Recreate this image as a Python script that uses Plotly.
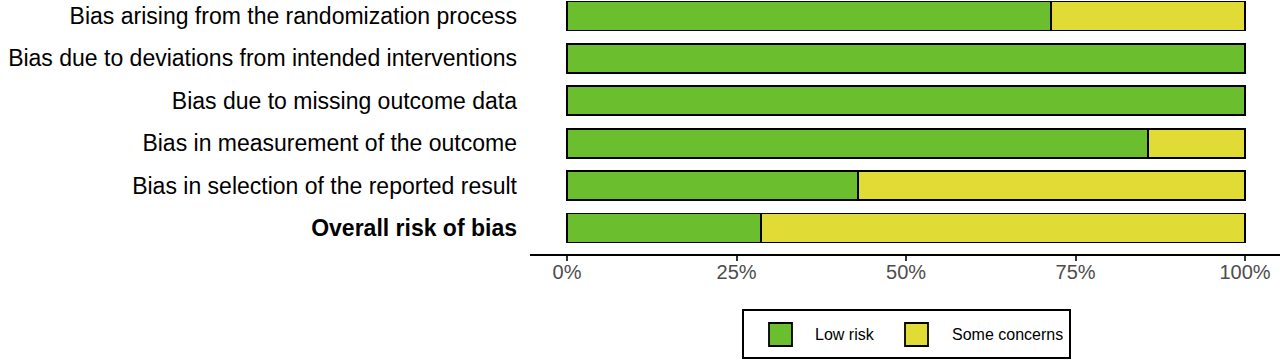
import plotly.graph_objects as go

domains = [
    "Bias arising from the randomization process",
    "Bias due to deviations from intended interventions",
    "Bias due to missing outcome data",
    "Bias in measurement of the outcome",
    "Bias in selection of the reported result",
    "Overall risk of bias",
]
tick_text = [
    "Bias arising from the randomization process",
    "Bias due to deviations from intended interventions",
    "Bias due to missing outcome data",
    "Bias in measurement of the outcome",
    "Bias in selection of the reported result",
    "<b>Overall risk of bias</b>",
]
low_risk = [71.43, 100.0, 100.0, 85.71, 42.86, 28.57]
some_concerns = [28.57, 0.0, 0.0, 14.29, 57.14, 71.43]
x_ticks = [0, 25, 50, 75, 100]
x_tick_labels = ["0%", "25%", "50%", "75%", "100%"]
legend_names = ["Low risk", "Some concerns"]

GREEN = "#6BBF2F"
YELLOW = "#E1DC35"
FONT = "Liberation Sans, Arial, Helvetica, sans-serif"

# body margin is removed by post_script, so figure pixels == screen pixels
W, H = 1280, 361
L, R, T, B = 530, 0, 0, H - 254
PW, PH = W - L - R, H - T - B


def px(x):  # screen x -> paper
    return (x - L) / PW


def py(y):  # screen y -> paper
    return (H - B - y) / PH


fig = go.Figure()
for name, vals, col in [(legend_names[0], low_risk, GREEN), (legend_names[1], some_concerns, YELLOW)]:
    fig.add_trace(go.Bar(
        y=domains, x=vals, name=name, orientation="h",
        marker=dict(color=col, line=dict(color="black", width=1.8)),
        showlegend=False, hoverinfo="skip",
    ))

# legend drawn manually (box, swatches, labels)
shapes = [dict(type="rect", xref="paper", yref="paper",
               x0=px(743), x1=px(1070), y0=py(358), y1=py(310),
               line=dict(color="black", width=2), fillcolor="white")]
annotations = []
for (sx, tx), name, col in zip([(769, 813), (905, 950)], legend_names, [GREEN, YELLOW]):
    shapes.append(dict(type="rect", xref="paper", yref="paper",
                       x0=px(sx), x1=px(sx + 23), y0=py(346), y1=py(323),
                       line=dict(color="black", width=1.8), fillcolor=col))
    annotations.append(dict(xref="paper", yref="paper", x=px(tx), y=py(334.5),
                            text=name, showarrow=False, xanchor="left", yanchor="middle",
                            font=dict(family=FONT, size=16, color="black")))

fig.update_layout(
    width=W, height=H,
    margin=dict(l=L, r=R, t=T, b=B, pad=0, autoexpand=False),
    barmode="stack", bargap=0.316,
    plot_bgcolor="white", paper_bgcolor="white",
    font=dict(family=FONT, color="black"),
    shapes=shapes, annotations=annotations,
    xaxis=dict(range=[-5.46, 105.16], tickvals=x_ticks, ticktext=x_tick_labels,
               automargin=False,
               showgrid=False, zeroline=False, showline=True, linecolor="black", linewidth=2,
               ticks="outside", ticklen=5, tickwidth=1.5, tickcolor="#333333",
               ticklabelstandoff=-6,
               tickfont=dict(family=FONT, size=20, color="#4D4D4D")),
    yaxis=dict(type="category", categoryorder="array", categoryarray=domains,
               automargin=False,
               range=[5.613, -0.377], tickvals=domains, ticktext=tick_text,
               showgrid=False, zeroline=False, showline=False, ticks="",
               ticklabelstandoff=12,
               tickfont=dict(family=FONT, size=23, color="black")),
)

fig.write_html("out.html", config={"displayModeBar": False},
               post_script="document.body.style.margin='0';")
